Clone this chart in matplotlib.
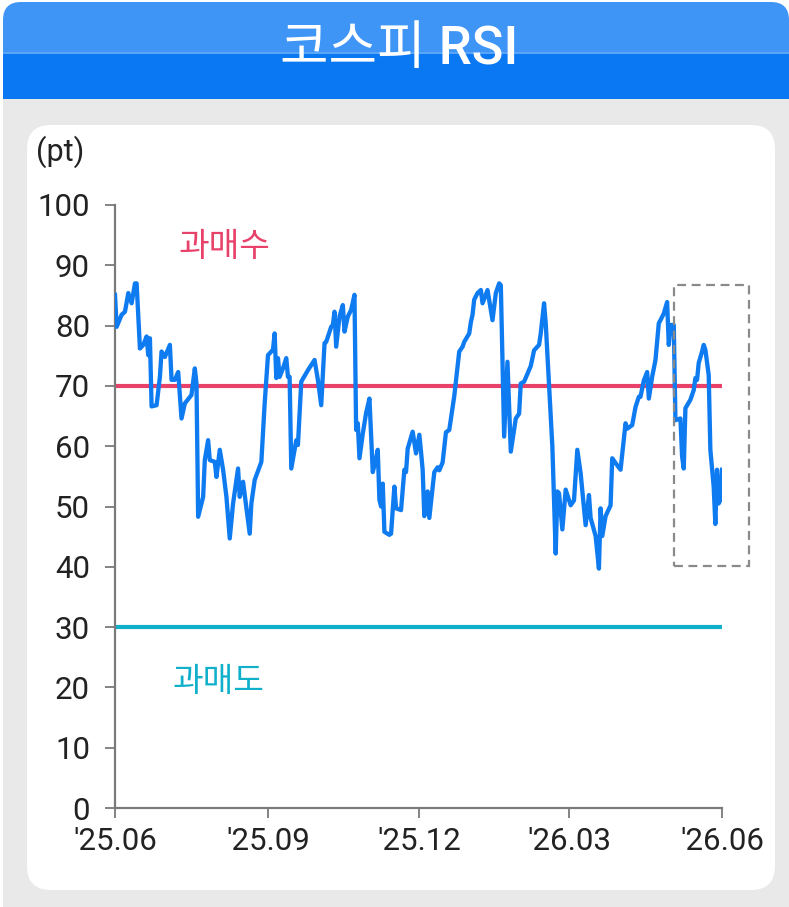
import matplotlib
matplotlib.use("Agg")
import matplotlib.pyplot as plt
import matplotlib.dates as mdates
from matplotlib.patches import FancyBboxPatch, Rectangle
import pandas as pd

plt.rcParams['font.family'] = ['Roboto', 'Noto Sans CJK KR', 'DejaVu Sans']

# ---------------- data ----------------
dates = [
    "2025-06-01","2025-06-02","2025-06-05","2025-06-07","2025-06-09","2025-06-11","2025-06-13","2025-06-14","2025-06-16","2025-06-18",
    "2025-06-20","2025-06-21","2025-06-22","2025-06-23","2025-06-26","2025-06-28","2025-06-29","2025-07-01","2025-07-04","2025-07-05",
    "2025-07-07","2025-07-09","2025-07-11","2025-07-13","2025-07-17","2025-07-19","2025-07-20","2025-07-21","2025-07-24","2025-07-25",
    "2025-07-27","2025-07-28","2025-07-31","2025-08-01","2025-08-03","2025-08-05","2025-08-07","2025-08-09","2025-08-11","2025-08-14",
    "2025-08-15","2025-08-17","2025-08-21","2025-08-22","2025-08-24","2025-08-28","2025-08-30","2025-09-01","2025-09-04","2025-09-05",
    "2025-09-06","2025-09-07","2025-09-08","2025-09-10","2025-09-12","2025-09-13","2025-09-14","2025-09-15","2025-09-18","2025-09-19",
    "2025-09-21","2025-09-25","2025-09-29","2025-10-01","2025-10-03","2025-10-05","2025-10-06","2025-10-09","2025-10-10","2025-10-11",
    "2025-10-12","2025-10-14","2025-10-16","2025-10-17","2025-10-19","2025-10-21","2025-10-23","2025-10-24","2025-10-25","2025-10-26",
    "2025-10-28","2025-10-30","2025-11-01","2025-11-03","2025-11-05","2025-11-06","2025-11-07","2025-11-08","2025-11-09","2025-11-10",
    "2025-11-13","2025-11-14","2025-11-16","2025-11-17","2025-11-20","2025-11-22","2025-11-23","2025-11-24","2025-11-27","2025-11-29",
    "2025-12-01","2025-12-02","2025-12-03","2025-12-04","2025-12-06","2025-12-07","2025-12-10","2025-12-12","2025-12-13","2025-12-15",
    "2025-12-17","2025-12-19","2025-12-22","2025-12-25","2025-12-27","2025-12-28","2025-12-31","2026-01-01","2026-01-02","2026-01-03",
    "2026-01-05","2026-01-07","2026-01-08","2026-01-11","2026-01-14","2026-01-16","2026-01-18","2026-01-19","2026-01-21","2026-01-23",
    "2026-01-25","2026-01-28","2026-01-30","2026-01-31","2026-02-02","2026-02-06","2026-02-08","2026-02-11","2026-02-12","2026-02-14",
    "2026-02-15","2026-02-17","2026-02-19","2026-02-21","2026-02-22","2026-02-23","2026-02-25","2026-02-27","2026-03-02","2026-03-04",
    "2026-03-06","2026-03-08","2026-03-11","2026-03-13","2026-03-14","2026-03-17","2026-03-19","2026-03-20","2026-03-21","2026-03-23",
    "2026-03-26","2026-03-27","2026-03-29","2026-04-01","2026-04-04","2026-04-05","2026-04-08","2026-04-10","2026-04-12","2026-04-13",
    "2026-04-15","2026-04-17","2026-04-18","2026-04-20","2026-04-22","2026-04-24","2026-04-25","2026-04-27","2026-04-29","2026-04-30",
    "2026-05-01","2026-05-03","2026-05-04","2026-05-07","2026-05-08","2026-05-09","2026-05-10","2026-05-13","2026-05-15","2026-05-16",
    "2026-05-17","2026-05-18","2026-05-20","2026-05-21","2026-05-22","2026-05-24","2026-05-25","2026-05-27","2026-05-28","2026-05-29",
    "2026-05-30","2026-05-31","2026-06-01",
]
rsi = [
    85.1,79.8,81.8,82.3,85.4,83.7,87.0,87.0,76.2,76.8,
    78.2,75.1,77.9,66.6,66.8,71.5,75.7,74.8,76.8,71.0,
    71.0,72.3,64.6,67.1,68.5,72.9,70.4,48.3,51.6,57.7,
    61.0,57.7,57.4,54.9,59.4,56.1,51.6,44.7,50.5,56.3,
    51.6,54.1,45.5,50.5,54.4,57.4,67.1,75.1,76.0,78.7,
    71.3,74.6,71.5,72.9,74.6,71.5,71.5,56.3,61.0,60.2,
    70.7,72.6,74.3,71.0,66.8,77.1,77.3,79.8,80.1,82.3,
    76.5,81.5,83.4,79.0,81.5,82.6,85.1,62.7,63.8,58.0,
    62.1,65.5,67.9,55.7,58.0,59.4,51.1,50.0,53.8,45.8,
    45.3,45.5,53.3,49.7,49.4,56.1,55.7,59.6,62.4,58.8,
    61.9,59.1,56.1,48.4,52.5,48.1,55.7,56.5,56.0,57.3,
    62.3,62.7,68.3,75.7,76.5,77.3,78.7,80.6,81.8,84.3,
    85.4,85.9,83.7,85.9,80.9,85.4,87.0,86.7,61.6,74.0,
    59.1,64.6,65.4,70.4,70.7,73.3,75.9,76.8,78.7,83.7,
    80.4,70.1,59.9,42.2,52.5,52.2,46.2,52.8,50.2,51.0,
    59.4,55.5,46.9,51.9,48.1,45.1,39.7,49.7,45.1,48.4,
    50.2,58.0,57.2,56.1,63.8,62.9,63.5,66.5,68.2,68.2,
    70.9,72.3,67.9,71.5,74.3,80.4,80.9,82.0,83.9,76.8,
    80.1,80.1,64.3,64.6,58.3,56.3,66.3,67.7,69.3,71.3,
    71.0,73.8,75.7,76.8,76.0,71.8,59.4,53.3,47.1,56.1,
    50.5,51.1,56.1,
]
overbought = 70
oversold = 30
tick_dates = ["2025-06-01", "2025-09-01", "2025-12-01", "2026-03-01", "2026-06-01"]
tick_labels = ["'25.06", "'25.09", "'25.12", "'26.03", "'26.06"]
y_ticks = [0, 10, 20, 30, 40, 50, 60, 70, 80, 90, 100]
title = "코스피 RSI"
unit_label = "(pt)"
ob_label = "과매수"
os_label = "과매도"

# ---------------- colours ----------------
C_LINE = "#0f7bf1"
C_OB = "#e8416a"
C_OS = "#10b0cb"
C_HEAD_TOP = "#3f95f6"
C_HEAD_BOT = "#0b78f3"
C_BG = "#e9e9e9"
C_AXIS = "#7a7a7a"

W, H = 789, 907
fig = plt.figure(figsize=(W / 100, H / 100), dpi=100)
fig.patch.set_facecolor("white")

# background layer in pixel coordinates
bg = fig.add_axes([0, 0, 1, 1])
bg.set_xlim(0, W)
bg.set_ylim(H, 0)
bg.axis("off")

bg.add_patch(Rectangle((3, 96), W - 3, H - 96, color=C_BG, lw=0))
bg.add_patch(FancyBboxPatch((3, 2), W - 3, 97, boxstyle="round,pad=0,rounding_size=18",
                            fc=C_HEAD_TOP, ec="none"))
bg.add_patch(Rectangle((3, 53), W - 3, 46, color=C_HEAD_BOT, lw=0))
bg.add_patch(Rectangle((3, 52), W - 3, 1.5, color="#5aa5f7", lw=0))
bg.add_patch(FancyBboxPatch((27, 125), 748, 765, boxstyle="round,pad=0,rounding_size=24",
                            fc="white", ec="none"))

bg.text(399, 49, title, color="white", fontsize=38, fontweight="medium",
        ha="center", va="center")
bg.text(60, 152, unit_label, color="#222222", fontsize=22,
        ha="center", va="center")

# main chart axes
left, right, top, bottom = 115, 722, 205, 808
ax = fig.add_axes([left / W, (H - bottom) / H, (right - left) / W, (bottom - top) / H])
ax.set_facecolor("none")

x = pd.to_datetime(dates)
ax.axhline(overbought, color=C_OB, lw=3, zorder=2)
ax.axhline(oversold, color=C_OS, lw=3, zorder=2)
ax.plot(x, rsi, color=C_LINE, lw=3.1, zorder=3, solid_joinstyle="round")

ax.set_ylim(0, 100)
xt = pd.to_datetime(tick_dates)
ax.set_xlim(xt[0], xt[-1])
ax.set_xticks(xt)
ax.set_xticklabels(tick_labels)
ax.set_yticks(y_ticks)

for s in ["top", "right"]:
    ax.spines[s].set_visible(False)
for s in ["left", "bottom"]:
    ax.spines[s].set_color(C_AXIS)
    ax.spines[s].set_linewidth(1.6)
ax.tick_params(axis="both", colors=C_AXIS, width=1.3, length=7, labelcolor="#222222",
               labelsize=22.5)
ax.tick_params(axis="y", pad=11)
ax.tick_params(axis="x", pad=7)

ax.text(0.181, 0.930, ob_label, transform=ax.transAxes, color=C_OB, fontsize=24,
        ha="center", va="center")
ax.text(0.170, 0.209, os_label, transform=ax.transAxes, color=C_OS, fontsize=24,
        ha="center", va="center")

# dashed highlight box around the most recent period
box_start = mdates.date2num(pd.Timestamp("2026-05-03"))
box_end = mdates.date2num(pd.Timestamp("2026-06-17"))
ax.add_patch(Rectangle((box_start, 40.1), box_end - box_start, 46.6, fill=False,
                       ec="#8a8a8a", lw=1.6, ls=(0, (4, 2.5)), clip_on=False, zorder=4))

fig.savefig("out.png", dpi=100)
